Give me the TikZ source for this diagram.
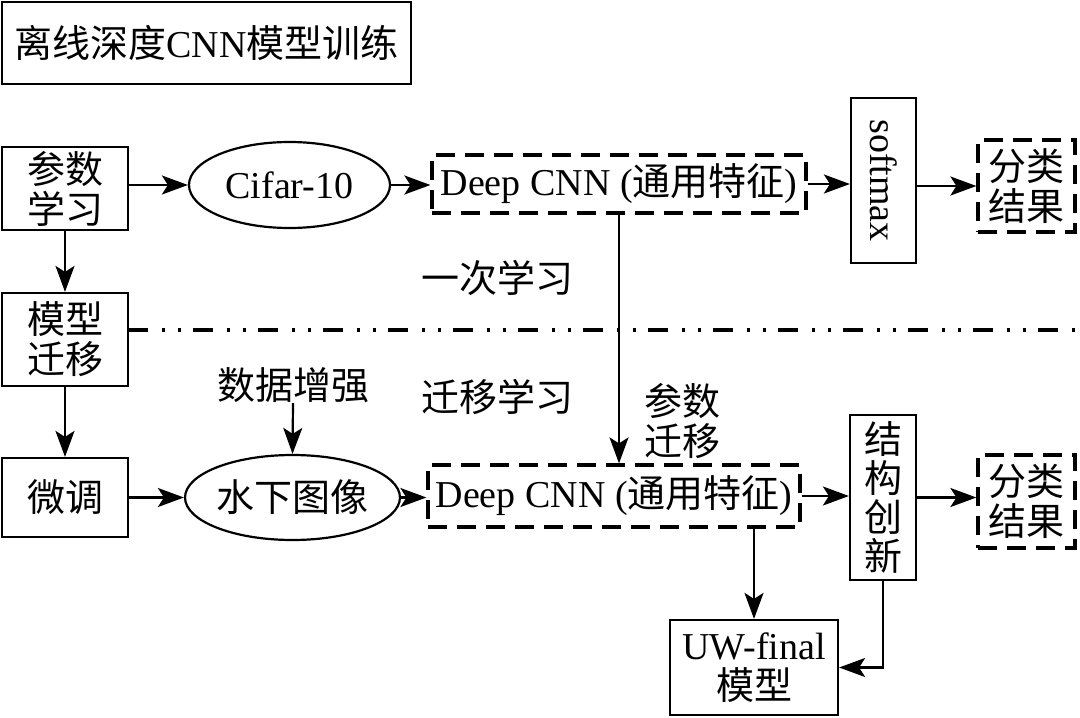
\documentclass[tikz,border=0pt]{standalone}
\usepackage{fontspec}
\setmainfont{Liberation Serif}
\newfontfamily\cjk{Noto Sans CJK SC}
\usetikzlibrary{arrows.meta,shapes.geometric}
\newcommand{\zh}[1]{{\cjk #1}}
\begin{document}
\begin{tikzpicture}[x=0.5pt,y=-0.5pt,
  every node/.style={font=\fontsize{19}{20}\selectfont},
  box/.style={draw,line width=1.1pt,inner sep=0pt,align=center},
  dbox/.style={draw,line width=1.6pt,dash pattern=on 9.5pt off 5pt,inner sep=0pt,align=center},
  ell/.style={ellipse,draw,line width=1.1pt,inner sep=0pt},
  arr/.style={line width=1.1pt,-{Stealth[length=13pt,width=9.5pt,inset=3pt]}},
  lbl/.style={inner sep=0pt,align=center},
  dashdotline/.style={line width=1.7pt,dash pattern=on 10pt off 7pt on 1.5pt off 6.5pt on 1.5pt off 6pt}]
\useasboundingbox (0,0) rectangle (1080,717);
% nodes
\node[box,minimum width=204.5pt,minimum height=41pt] (title) at (206.5,43) {\zh{离线深度}CNN\zh{模型训练}};
\node[box,minimum width=63pt,minimum height=41.5pt] (cs) at (65,188.5) {\zh{参数}\\\zh{学习}};
\node[box,minimum width=63pt,minimum height=46.5pt] (mx) at (65,339.5) {\zh{模型}\\\zh{迁移}};
\node[box,minimum width=63pt,minimum height=39.5pt] (wt) at (65,497.5) {\zh{微调}};
\node[ell,minimum width=100.5pt,minimum height=43pt] (cifar) at (289.5,185) {Cifar-10};
\node[ell,minimum width=82.5pt,minimum height=42.5pt] (sx) at (292.5,497.5) {\zh{水下图像}};
\node[dbox,minimum width=187pt,minimum height=29pt] (dcnn1) at (619,184) {Deep CNN (\zh{通用特征})};
\node[dbox,minimum width=186pt,minimum height=31pt] (dcnn2) at (614,496) {Deep CNN (\zh{通用特征})};
\node[box,minimum width=32.5pt,minimum height=82.5pt] (sm) at (883.5,180.5) {};
\node[lbl,rotate=-90] (smt) at (sm.center) {softmax};
\node[box,minimum width=33pt,minimum height=82.5pt,font=\fontsize{19}{19.5}\selectfont] (jg) at (883,497.5) {\zh{结}\\\zh{构}\\\zh{创}\\\zh{新}};
\node[dbox,minimum width=48.5pt,minimum height=46pt] (fl1) at (1026.5,186) {\zh{分类}\\\zh{结果}};
\node[dbox,minimum width=48.5pt,minimum height=46.5pt] (fl2) at (1026.5,501.5) {\zh{分类}\\\zh{结果}};
\node[box,minimum width=84pt,minimum height=47.5pt] (uw) at (754,667.5) {UW-final\\\zh{模型}};
\node[lbl] (ycxx) at (497,278) {\zh{一次学习}};
\node[lbl] (qyxx) at (497,397) {\zh{迁移学习}};
\node[lbl] (sjzq) at (293,385) {\zh{数据增强}};
\node[lbl] (csqy) at (682,421) {\zh{参数}\\\zh{迁移}};
% separator
\coordinate (ls) at (128,330);
\coordinate (le) at (1080,330);
\draw[dashdotline] (ls) -- (le);
% connectors
\draw[arr] (cs.east |- cifar.west) -- (cifar.west);
\draw[arr] (cifar.east) -- (dcnn1.west |- cifar.east);
\draw[arr] (dcnn1.east) -- (sm.west |- dcnn1.east);
\draw[arr] (sm.east |- fl1.west) -- (fl1.west);
\draw[arr] (cs.south) -- (mx.north);
\draw[arr] (mx.south) -- (wt.north);
\draw[arr] (wt.east) -- (sx.west |- wt.east);
\draw[arr] (sx.east) -- (dcnn2.west |- sx.east);
\draw[arr] (dcnn2.east) -- (jg.west |- dcnn2.east);
\draw[arr] (jg.east) -- (fl2.west |- jg.east);
\draw[arr] (sjzq.south) -- (sx.north);
\draw[arr] (dcnn1.south) -- (dcnn1.south |- dcnn2.north);
\draw[arr] (uw.north |- dcnn2.south) -- (uw.north);
\draw[arr] (jg.south) |- (uw.east);
\end{tikzpicture}
\end{document}
